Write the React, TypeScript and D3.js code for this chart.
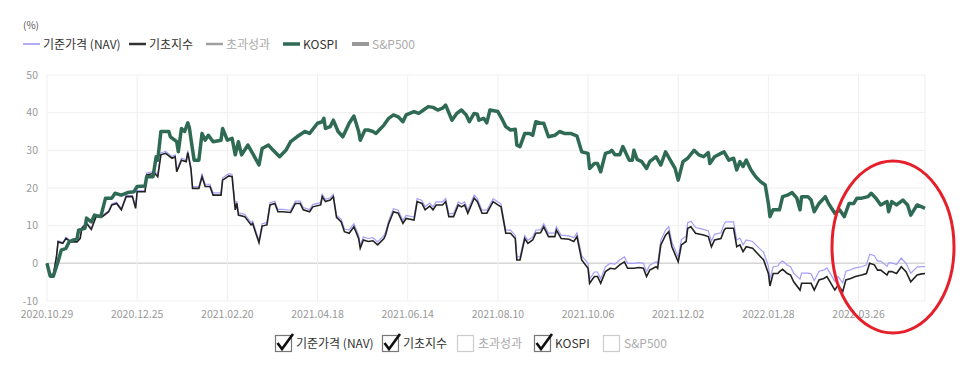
import React from 'react';
import * as d3 from 'd3';

// x ticks (every 57 days)
const xTickLabels = ['2020.10.29', '2020.12.25', '2021.02.20', '2021.04.18', '2021.06.14', '2021.08.10', '2021.10.06', '2021.12.02', '2022.01.28', '2022.03.26'];
const yTicks = [-10, 0, 10, 20, 30, 40, 50];
const startLabel = '2020.10.29';
const endLabel = '2022.05.07';

// days elapsed since the start date, for NAV and 기초지수
const indexDays = [
  0, 2, 4, 6, 7, 10, 12, 15, 19, 21,
  22, 25, 28, 31, 35, 39, 41, 44, 47, 50,
  54, 56, 57, 62, 63, 68, 70, 72, 75, 79,
  81, 82, 85, 88, 89, 91, 92, 94, 96, 98,
  100, 103, 105, 110, 111, 115, 117, 119, 120, 121,
  125, 129, 130, 132, 134, 136, 139, 141, 144, 146,
  149, 154, 157, 160, 162, 166, 168, 173, 174, 176,
  179, 181, 183, 186, 188, 191, 194, 197, 198, 200,
  203, 206, 209, 213, 214, 216, 219, 222, 225, 227,
  232, 234, 237, 239, 242, 244, 246, 250, 252, 254,
  257, 260, 262, 264, 266, 270, 272, 275, 278, 282,
  285, 287, 290, 293, 296, 297, 299, 302, 304, 307,
  309, 312, 314, 317, 321, 322, 325, 330, 333, 335,
  338, 342, 343, 346, 348, 350, 353, 356, 359, 362,
  365, 367, 371, 374, 377, 379, 381, 385, 386, 388,
  391, 393, 395, 399, 401, 404, 405, 407, 410, 415,
  418, 420, 422, 426, 428, 429, 434, 436, 438, 440,
  442, 446, 450, 453, 456, 457, 459, 462, 463, 465,
  468, 470, 472, 476, 477, 481, 483, 485, 488, 491,
  493, 495, 498, 500, 503, 505, 508, 511, 515, 518,
  520, 523, 525, 527, 531, 532, 534, 537, 540, 543,
  546, 550, 553, 555,
];

const indexValues = [
  0, -3.1, -3.1, 1.8, 5.7, 5.3, 6.6, 5.7, 5.7, 6.6,
  9.3, 10.6, 9, 12.4, 12.4, 13.7, 15.5, 15.9, 14.2, 17.7,
  17.7, 14.6, 19, 19, 23.5, 23.9, 23, 28.8, 29.2, 27.9,
  28.3, 24.3, 27.4, 27, 29.4, 25, 19.9, 19.9, 19.9, 23,
  20.4, 20.4, 18.1, 18.1, 22.1, 23.2, 23, 14.2, 15.9, 12.8,
  12.4, 10.2, 10.6, 8, 5.5, 9.9, 10.2, 15.5, 15.9, 13.7,
  13.7, 13.5, 15.9, 15.9, 14.2, 13.7, 15, 15.5, 17.7, 16.4,
  16.8, 17.7, 12.2, 11, 8.4, 8, 9.7, 6.6, 4, 6.2,
  5.8, 6, 4.9, 6.6, 7.5, 10.6, 13.7, 13.3, 10.6, 11.9,
  11.5, 16.4, 15.9, 14.2, 15.2, 14.2, 15.5, 15.5, 16.4, 12.4,
  12.4, 15.5, 15, 15.5, 13.3, 17.3, 16.4, 13.3, 13.3, 16.4,
  15.5, 15, 8, 8, 6.6, 0.9, 0.9, 6.6, 5.3, 6.2,
  8, 8.1, 9.7, 7.1, 7.1, 8.8, 6.6, 6.4, 5.8, 7.1,
  0.9, -1.3, -5.3, -3.5, -3.5, -5.3, -2.2, -1.3, -1.5, -0.4,
  0.4, -1.3, -1.3, -1.1, -1.3, -3.5, -1.8, -0.9, -1.3, 4.9,
  7.5, 8.4, 4.4, 0.4, 4.9, 5.8, 9.3, 9.7, 8, 7.5,
  7.1, 4.4, 6.2, 6.6, 8.8, 9.3, 9.3, 4.4, 4.9, 3.1,
  4.4, 4, 2.2, 0.9, -2.7, -6, -2.7, -2.7, -2.2, -1.6,
  -2.7, -3.1, -4.9, -7.1, -5.3, -5.3, -5.3, -7.1, -4.4, -4,
  -3.5, -4.9, -7.1, -5.8, -7.5, -4.4, -4, -3.5, -3.1, -2.7,
  0, -0.4, -1.8, -1.8, -3.1, -2.2, -2.2, -2.7, -0.9, -2.2,
  -4.9, -3.1, -2.8, -2.7,
];

const navValues = [
  0, -2.8, -2.8, 2.1, 6, 5.6, 6.9, 6, 6, 6.9,
  9.6, 10.9, 9.3, 12.7, 12.7, 14, 15.8, 16.2, 14.5, 18,
  18, 14.9, 19.3, 19.4, 24, 24.4, 23.5, 29.3, 29.7, 28.4,
  28.8, 24.8, 27.9, 27.5, 29.9, 25.5, 20.4, 20.4, 20.4, 23.6,
  21, 21, 18.7, 18.7, 22.7, 23.8, 23.6, 14.8, 16.5, 13.4,
  13, 10.8, 11.2, 8.6, 6.1, 10.5, 10.8, 16.1, 16.5, 14.3,
  14.3, 14.1, 16.5, 16.5, 14.8, 14.3, 15.6, 16.1, 18.3, 17,
  17.4, 18.3, 12.8, 11.7, 9.1, 8.8, 10.5, 7.4, 4.8, 7,
  6.6, 6.8, 5.7, 7.4, 8.3, 11.4, 14.5, 14.1, 11.4, 12.7,
  12.3, 17.2, 16.7, 15, 16, 15, 16.3, 16.3, 17.2, 13.2,
  13.2, 16.3, 15.8, 16.3, 14.1, 18.1, 17.2, 14.1, 14.1, 17.2,
  16.3, 15.8, 8.8, 8.8, 7.4, 1.7, 1.7, 7.4, 6.1, 7,
  8.8, 8.9, 10.5, 8, 8, 9.7, 7.5, 7.3, 6.8, 8.1,
  2, 0, -4.2, -2.3, -2.3, -4.1, -0.9, 0, -0.2, 0.9,
  1.7, 0, 0, 0.2, 0, -2.2, -0.5, 0.4, 0, 6.1,
  8.8, 9.7, 5.7, 1.7, 6.3, 7.2, 10.8, 11.2, 9.5, 9,
  8.6, 5.9, 7.7, 8.1, 10.4, 11, 11, 6.2, 6.7, 4.9,
  6.2, 5.8, 4.1, 2.9, -0.7, -4.2, -0.9, -0.7, 0, 0.6,
  -0.5, -0.9, -2.6, -4.2, -2.6, -2.6, -2.8, -4.6, -2.1, -1.8,
  -1.2, -2.6, -4.8, -3.5, -5.2, -2.1, -1.7, -1.2, -0.9, -0.4,
  2.4, 2, 0.6, 0.6, -0.8, 0.1, 0.1, -0.3, 1.4, 0,
  -2.6, -1, -0.9, -0.9,
];

const kospiDays = [
  0, 2, 4, 7, 9, 12, 14, 19, 20, 24,
  25, 28, 30, 34, 37, 41, 43, 47, 51, 55,
  57, 62, 63, 67, 69, 70, 72, 77, 78, 82,
  83, 85, 87, 89, 90, 91, 93, 96, 98, 100,
  102, 105, 110, 111, 114, 117, 119, 121, 123, 127,
  130, 134, 136, 140, 143, 147, 151, 154, 158, 163,
  166, 171, 174, 175, 176, 179, 181, 184, 187, 191,
  194, 197, 198, 201, 203, 206, 208, 210, 213, 216,
  219, 222, 225, 227, 232, 235, 238, 241, 244, 247,
  250, 252, 256, 259, 262, 265, 267, 270, 272, 273,
  276, 278, 280, 285, 288, 290, 293, 296, 297, 299,
  302, 305, 307, 309, 312, 314, 317, 321, 324, 327,
  331, 334, 335, 338, 342, 343, 346, 348, 350, 353,
  356, 357, 359, 362, 364, 368, 370, 371, 373, 376,
  379, 381, 385, 388, 391, 394, 397, 399, 402, 405,
  409, 412, 415, 418, 419, 422, 426, 428, 431, 434,
  436, 438, 440, 442, 445, 448, 451, 454, 456, 457,
  459, 463, 465, 468, 471, 474, 476, 477, 481, 483,
  485, 488, 492, 494, 498, 501, 504, 507, 510, 512,
  515, 519, 521, 524, 527, 531, 532, 534, 537, 541,
  544, 546, 550, 553, 555,
];

const kospiValues = [
  0, -3.4, -3.4, 0.5, 3.5, 4, 5.7, 6.6, 8.8, 9.3,
  12, 11, 12.8, 12.4, 17.3, 17.3, 18.6, 18.1, 18.8, 19,
  20.4, 20.5, 23, 23, 28.3, 27.4, 35, 35, 33.6, 32.3,
  29.6, 35.8, 35, 37.3, 36, 33, 27.4, 27.4, 34.5, 32.7,
  34, 32.3, 32.7, 35.8, 32.7, 33.2, 28.8, 32.3, 28.8, 31.4,
  29.2, 26.1, 30.5, 31.4, 30, 28.3, 30, 32.3, 33.6, 35,
  34.5, 37.2, 37.6, 38.5, 35.8, 36.3, 38, 35, 33.6, 37.2,
  39.1, 35, 32.7, 35.4, 35.4, 35, 34.5, 35.4, 36.7, 38.5,
  39.4, 38.9, 37.6, 39.4, 40.3, 39.8, 40.7, 41.6, 41.4, 40.7,
  41.2, 42, 38, 39.8, 40.7, 39.4, 37.6, 39.8, 39.6, 38,
  38.5, 37.3, 40.7, 40.3, 38, 36.3, 35.4, 35.6, 31.4, 31,
  34.5, 34.5, 34, 37.6, 37.2, 37.2, 33.6, 34, 35, 34.5,
  34.5, 34, 33.8, 29.6, 29.2, 25.2, 26.5, 26.5, 24.3, 29.2,
  29.6, 30, 28.8, 28.8, 31, 27.4, 27.4, 30, 27.6, 27,
  25.2, 27, 28.3, 26.1, 29.6, 27.4, 25.2, 22.1, 27, 27.9,
  30, 28.8, 28.3, 29.4, 26.5, 28.3, 29.2, 29.6, 27.4, 27.9,
  24.8, 27, 25.7, 27.4, 24.8, 23, 21.7, 20.8, 15.9, 12.4,
  14.2, 14.2, 17.7, 18.1, 18.8, 17.3, 14.2, 17.7, 17.7, 16.8,
  13.7, 15.9, 17.7, 15.9, 13.3, 14.2, 12.4, 15.9, 15.9, 17.3,
  17.3, 17.7, 18.6, 17.3, 15.5, 16.4, 13.7, 16.4, 15.5, 16.8,
  15.5, 12.8, 15.5, 15, 14.6,
];

const legendItems = [
  { label: '기준가격 (NAV)', color: '#b3acf5', width: 2, active: true },
  { label: '기초지수', color: '#333333', width: 2.5, active: true },
  { label: '초과성과', color: '#a0a0a0', width: 2.5, active: false },
  { label: 'KOSPI', color: '#2f6b54', width: 3.5, active: true },
  { label: 'S&P500', color: '#9a9a9a', width: 4, active: false },
];
const legendX = [23, 129, 206, 283, 352];
const checkX = [275, 382, 457, 534, 603];

const FONT = "'Noto Sans CJK KR', 'Noto Sans', sans-serif";

export default function App() {
  const parse = d3.timeParse('%Y.%m.%d');
  const start = parse(startLabel) as Date;
  const end = parse(endLabel) as Date;

  const x = d3.scaleTime().domain([start, end]).range([47, 925]);
  const y = d3.scaleLinear().domain([-10, 50]).range([301, 75]);

  const toPts = (days: number[], vals: number[]) =>
    days.slice(0, Math.min(days.length, vals.length)).map((d, i) => ({ date: d3.timeDay.offset(start, d), v: vals[i] }));

  const nav = toPts(indexDays, navValues);
  const idx = toPts(indexDays, indexValues);
  const kospi = toPts(kospiDays, kospiValues);

  const line = d3.line<{ date: Date; v: number }>()
    .x((d) => x(d.date))
    .y((d) => y(d.v))
    .curve(d3.curveLinear);

  const xTicks = xTickLabels.map((l) => ({ label: l, date: parse(l) as Date }));

  return (
    <svg width={966} height={392} style={{ position: 'absolute', left: 0, top: 0, fontFamily: FONT }}>
      <rect width={966} height={392} fill="#fff" />
      <text x={23} y={29} fontSize={10} fill="#555">(%)</text>

      {legendItems.map((it, i) => (
        <g key={it.label} transform={`translate(${legendX[i]},44)`}>
          <line x1={0} x2={17} y1={0} y2={0} stroke={it.color} strokeWidth={it.width} />
          <text x={20} y={4.5} fontSize={12} fill={it.active ? '#333' : '#aaa'}>{it.label}</text>
        </g>
      ))}

      {/* grid */}
      {yTicks.map((t) => (
        <line key={'gy' + t} x1={47} x2={925} y1={y(t)} y2={y(t)} stroke={t === 0 ? '#d6d6d6' : '#efefef'} strokeWidth={t === 0 ? 1.5 : 1} />
      ))}
      {xTicks.map((t) => (
        <line key={'gx' + t.label} x1={x(t.date)} x2={x(t.date)} y1={75} y2={301} stroke="#efefef" />
      ))}
      <line x1={925} x2={925} y1={75} y2={301} stroke="#efefef" />

      {yTicks.map((t) => (
        <text key={'ty' + t} x={38} y={y(t)} dy="0.35em" textAnchor="end" fontSize={10.5} fill="#999">{t}</text>
      ))}
      {xTicks.map((t) => (
        <text key={'tx' + t.label} x={x(t.date)} y={318} textAnchor="middle" fontSize={10.5} fill="#999">{t.label}</text>
      ))}

      <path d={line(nav) || ''} fill="none" stroke="#a59ef7" strokeWidth={1.2} />
      <path d={line(idx) || ''} fill="none" stroke="#222" strokeWidth={1.6} />
      <path d={line(kospi) || ''} fill="none" stroke="#2f6b54" strokeWidth={3.5} strokeLinejoin="round" />

      {/* bottom checkbox legend */}
      {legendItems.map((it, i) => (
        <g key={'cb' + it.label} transform={`translate(${checkX[i]},335)`}>
          <rect x={0.5} y={0.5} width={16} height={16} fill="#fff" stroke={it.active ? '#777' : '#ccc'} strokeWidth={1.2} />
          {it.active && (
            <path d="M2.5,8 L7,14 L18,-1" fill="none" stroke="#111" strokeWidth={2.6} />
          )}
          <text x={21} y={12.5} fontSize={12} fill={it.active ? '#333' : '#aaa'}>{it.label}</text>
        </g>
      ))}

      {/* annotation */}
      <ellipse cx={893} cy={247} rx={61} ry={86} fill="none" stroke="#e5202a" strokeWidth={3} />
    </svg>
  );
}
